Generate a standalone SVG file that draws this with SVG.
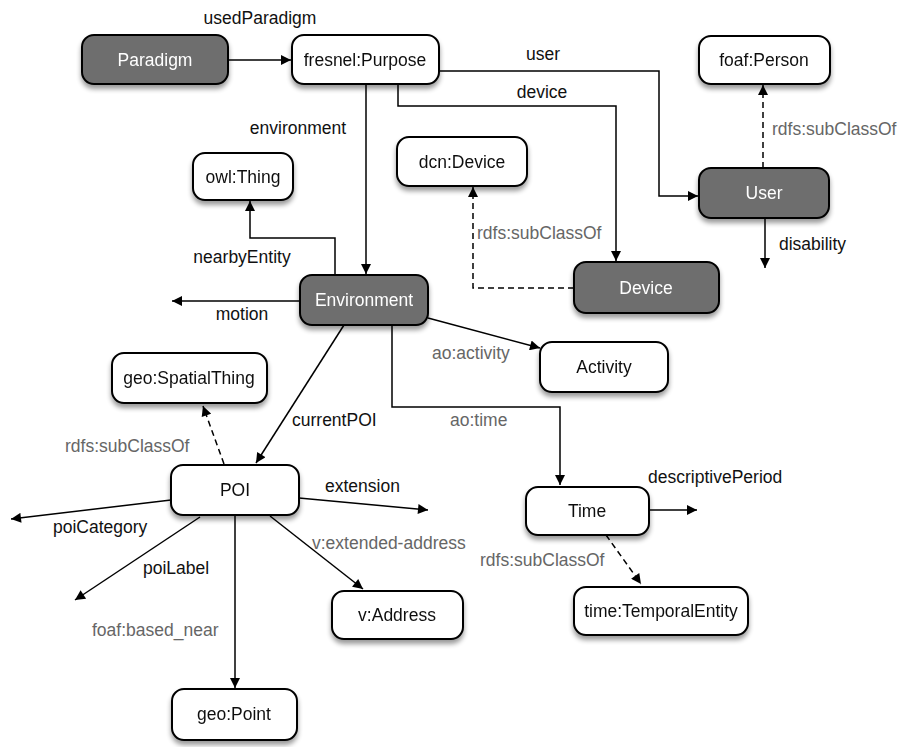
<svg xmlns="http://www.w3.org/2000/svg" width="900" height="747" viewBox="0 0 900 747">
<style>
text{font-family:"Liberation Sans",Arial,sans-serif;font-size:17.5px}
.n rect{fill:#fff;stroke:#000;stroke-width:2}
.d rect{fill:#6e6e6e;stroke:#000;stroke-width:2}
.n text{fill:#111;text-anchor:middle}
.d text{fill:#fff;text-anchor:middle}
.e{fill:none;stroke:#000;stroke-width:1.5}
.s{stroke-dasharray:6,4}
.lb{fill:#111}
.lg{fill:#666}
</style>
<defs>
<marker id="a" viewBox="0 0 10 10" refX="10" refY="5" markerWidth="12" markerHeight="10" markerUnits="userSpaceOnUse" orient="auto"><path d="M0,0L10,5L0,10z" fill="#000"/></marker>
<filter id="sh" x="-10%" y="-10%" width="130%" height="150%"><feGaussianBlur in="SourceAlpha" stdDeviation="2.5"/><feOffset dx="0" dy="4"/><feComponentTransfer><feFuncA type="linear" slope="0.4"/></feComponentTransfer><feMerge><feMergeNode/><feMergeNode in="SourceGraphic"/></feMerge></filter>
</defs>
<rect width="900" height="747" fill="#fff"/>
<g id="edges">
<path class="e" d="M228,60H291" marker-end="url(#a)"/>
<path class="e" d="M439,71H659V196H698" marker-end="url(#a)"/>
<path class="e" d="M398,84V106H616V261" marker-end="url(#a)"/>
<path class="e" d="M366,84V274" marker-end="url(#a)"/>
<path class="e s" d="M763,168V85" marker-end="url(#a)"/>
<path class="e" d="M765,218V268" marker-end="url(#a)"/>
<path class="e s" d="M574,288H473V187" marker-end="url(#a)"/>
<path class="e" d="M335,275V238H250V201" marker-end="url(#a)"/>
<path class="e" d="M300,301H172" marker-end="url(#a)"/>
<path class="e" d="M428,318L540,348" marker-end="url(#a)"/>
<path class="e" d="M392,325V407H560V485" marker-end="url(#a)"/>
<path class="e" d="M344,325L256,463" marker-end="url(#a)"/>
<path class="e" d="M649,510H697" marker-end="url(#a)"/>
<path class="e s" d="M606,535L641,584" marker-end="url(#a)"/>
<path class="e s" d="M224,464L203,406" marker-end="url(#a)"/>
<path class="e" d="M299,498L428,510" marker-end="url(#a)"/>
<path class="e" d="M171,500L11,519" marker-end="url(#a)"/>
<path class="e" d="M200,517L75,600" marker-end="url(#a)"/>
<path class="e" d="M235,516V688" marker-end="url(#a)"/>
<path class="e" d="M270,516L363,589" marker-end="url(#a)"/>
</g>
<g id="labels">
<text class="lb" x="260" y="24" text-anchor="middle">usedParadigm</text>
<text class="lb" x="543" y="60" text-anchor="middle">user</text>
<text class="lb" x="542" y="98" text-anchor="middle">device</text>
<text class="lb" x="298" y="134" text-anchor="middle">environment</text>
<text class="lg" x="772" y="135">rdfs:subClassOf</text>
<text class="lb" x="779" y="250">disability</text>
<text class="lg" x="477" y="239">rdfs:subClassOf</text>
<text class="lb" x="242" y="263" text-anchor="middle">nearbyEntity</text>
<text class="lb" x="242" y="320" text-anchor="middle">motion</text>
<text class="lg" x="432" y="359">ao:activity</text>
<text class="lg" x="450" y="426">ao:time</text>
<text class="lb" x="292" y="426">currentPOI</text>
<text class="lg" x="65" y="452">rdfs:subClassOf</text>
<text class="lb" x="648" y="483">descriptivePeriod</text>
<text class="lb" x="325" y="492">extension</text>
<text class="lb" x="53" y="533">poiCategory</text>
<text class="lg" x="312" y="549">v:extended-address</text>
<text class="lg" x="480" y="566">rdfs:subClassOf</text>
<text class="lb" x="143" y="574">poiLabel</text>
<text class="lg" x="92" y="636">foaf:based_near</text>
</g>
<g id="Paradigm" class="d" filter="url(#sh)"><rect x="82" y="35" width="146" height="49" rx="12"/><text x="155" y="66">Paradigm</text></g>
<g id="Purpose" class="n" filter="url(#sh)"><rect x="292" y="35" width="147" height="49" rx="12"/><text x="365" y="66">fresnel:Purpose</text></g>
<g id="Person" class="n" filter="url(#sh)"><rect x="699" y="36" width="131" height="48" rx="12"/><text x="764" y="66">foaf:Person</text></g>
<g id="User" class="d" filter="url(#sh)"><rect x="699" y="168" width="130" height="50" rx="12"/><text x="764" y="199">User</text></g>
<g id="dcnDevice" class="n" filter="url(#sh)"><rect x="397" y="137" width="130" height="49" rx="12"/><text x="462" y="168">dcn:Device</text></g>
<g id="Device" class="d" filter="url(#sh)"><rect x="574" y="262" width="145" height="51" rx="12"/><text x="646" y="294">Device</text></g>
<g id="owlThing" class="n" filter="url(#sh)"><rect x="193" y="153" width="100" height="47" rx="12"/><text x="243" y="183">owl:Thing</text></g>
<g id="Environment" class="d" filter="url(#sh)"><rect x="300" y="275" width="128" height="50" rx="12"/><text x="364" y="306">Environment</text></g>
<g id="Activity" class="n" filter="url(#sh)"><rect x="540" y="342" width="128" height="50" rx="12"/><text x="604" y="373">Activity</text></g>
<g id="SpatialThing" class="n" filter="url(#sh)"><rect x="112" y="353" width="155" height="50" rx="12"/><text x="189" y="384">geo:SpatialThing</text></g>
<g id="POI" class="n" filter="url(#sh)"><rect x="171" y="465" width="128" height="50" rx="12"/><text x="235" y="496">POI</text></g>
<g id="Time" class="n" filter="url(#sh)"><rect x="526" y="487" width="123" height="48" rx="12"/><text x="587" y="517">Time</text></g>
<g id="TemporalEntity" class="n" filter="url(#sh)"><rect x="574" y="587" width="174" height="48" rx="12"/><text x="661" y="617">time:TemporalEntity</text></g>
<g id="Address" class="n" filter="url(#sh)"><rect x="332" y="591" width="131" height="48" rx="12"/><text x="397" y="621">v:Address</text></g>
<g id="Point" class="n" filter="url(#sh)"><rect x="172" y="689" width="125" height="51" rx="12"/><text x="234" y="720">geo:Point</text></g>
</svg>
